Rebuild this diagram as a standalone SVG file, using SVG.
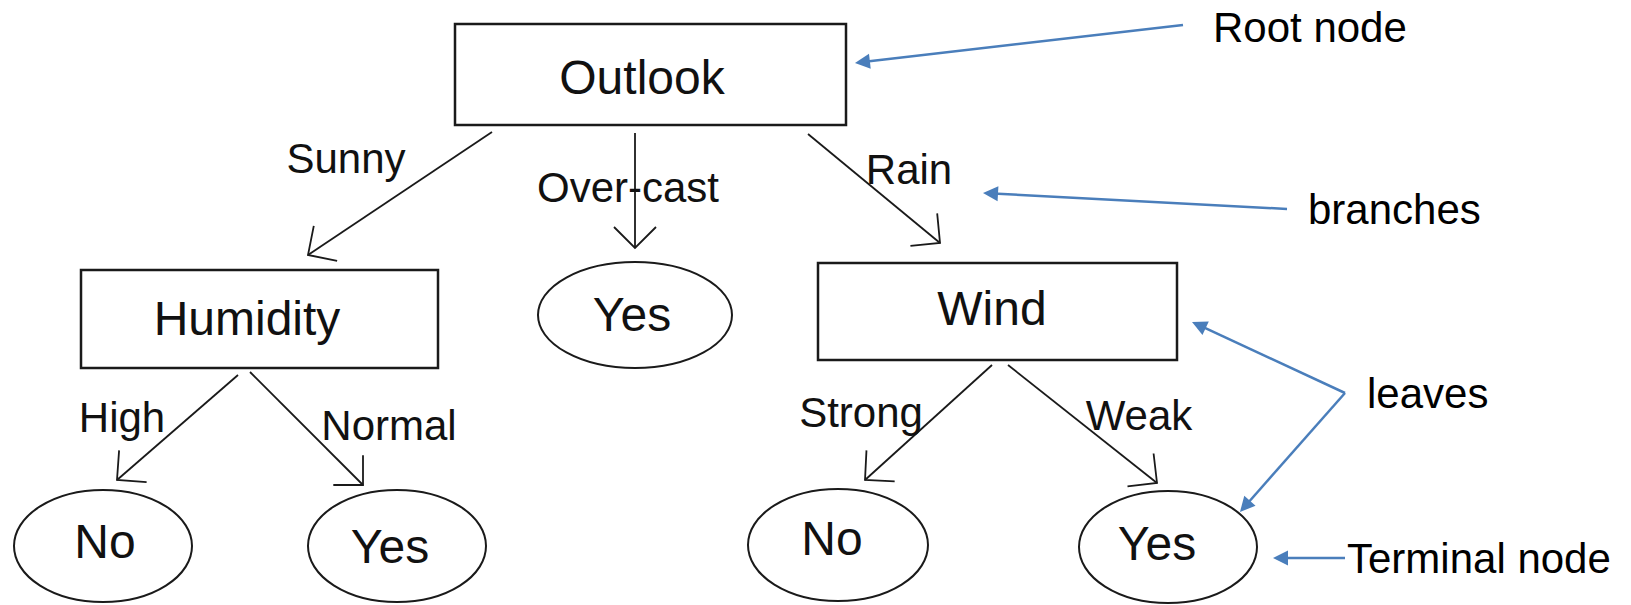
<svg xmlns="http://www.w3.org/2000/svg" width="1631" height="605" viewBox="0 0 1631 605">
<style>
  .box { fill: #fff; stroke: #1a1a1a; stroke-width: 2.5; }
  .leaf { fill: #fff; stroke: #1a1a1a; stroke-width: 2; }
  .node-t { font-family: "Liberation Sans", Arial, sans-serif; font-size: 48px; fill: #111; text-anchor: middle; }
  .edge-t { font-family: "Liberation Sans", Arial, sans-serif; font-size: 42px; fill: #111; text-anchor: middle; }
  .ann-t { font-family: "Liberation Sans", Arial, sans-serif; font-size: 42px; fill: #000; }
  .edge { stroke: #1a1a1a; stroke-width: 1.8; fill: none; marker-end: url(#open); }
  .ann { stroke: #4a7ebb; stroke-width: 2.5; fill: none; marker-end: url(#tri); }
</style>
<defs>
  <marker id="open" markerUnits="userSpaceOnUse" markerWidth="60" markerHeight="60" refX="0" refY="0" orient="auto" overflow="visible">
    <path d="M -21 -21 L 0 0 L -21 21" fill="none" stroke="#1a1a1a" stroke-width="1.8"/>
  </marker>
  <marker id="tri" markerUnits="userSpaceOnUse" markerWidth="40" markerHeight="40" refX="0" refY="0" orient="auto" overflow="visible">
    <path d="M 10 0 L -5 -7.5 L -5 7.5 z" fill="#4a7ebb"/>
  </marker>
</defs>
<rect width="1631" height="605" fill="#fff"/>

<g id="connectors">
  <line class="edge" x1="492" y1="132" x2="308" y2="255"/>
  <line class="edge" x1="635" y1="133" x2="635" y2="248"/>
  <line class="edge" x1="808" y1="134" x2="940" y2="243"/>
  <line class="edge" x1="238" y1="375" x2="117" y2="480"/>
  <line class="edge" x1="250" y1="372" x2="363" y2="485"/>
  <line class="edge" x1="992" y1="365" x2="865" y2="480"/>
  <line class="edge" x1="1008" y1="365" x2="1157" y2="483"/>
  <text class="edge-t" x="346" y="173">Sunny</text>
  <text class="edge-t" x="628" y="202">Over-cast</text>
  <text class="edge-t" x="909" y="184">Rain</text>
  <text class="edge-t" x="122" y="432">High</text>
  <text class="edge-t" x="389" y="440">Normal</text>
  <text class="edge-t" x="861" y="427">Strong</text>
  <text class="edge-t" x="1139" y="430">Weak</text>
</g>

<g id="node-outlook">
  <rect class="box" x="455" y="24" width="391" height="101"/>
  <text class="node-t" x="642" y="94">Outlook</text>
</g>
<g id="node-humidity">
  <rect class="box" x="81" y="270" width="357" height="98"/>
  <text class="node-t" x="247" y="335">Humidity</text>
</g>
<g id="node-overcast-yes">
  <ellipse class="leaf" cx="635" cy="315" rx="97" ry="53"/>
  <text class="node-t" x="632" y="331">Yes</text>
</g>
<g id="node-wind">
  <rect class="box" x="818" y="263" width="359" height="97"/>
  <text class="node-t" x="992" y="325">Wind</text>
</g>
<g id="node-high-no">
  <ellipse class="leaf" cx="103" cy="546" rx="89" ry="56"/>
  <text class="node-t" x="105" y="558">No</text>
</g>
<g id="node-normal-yes">
  <ellipse class="leaf" cx="397" cy="546" rx="89" ry="56"/>
  <text class="node-t" x="390" y="563">Yes</text>
</g>
<g id="node-strong-no">
  <ellipse class="leaf" cx="838" cy="545" rx="90" ry="56"/>
  <text class="node-t" x="832" y="555">No</text>
</g>
<g id="node-weak-yes">
  <ellipse class="leaf" cx="1168" cy="547" rx="89" ry="56"/>
  <text class="node-t" x="1157" y="560">Yes</text>
</g>

<g id="annotations">
  <line class="ann" x1="1183" y1="25" x2="864.9" y2="61.85"/>
  <line class="ann" x1="1287" y1="209" x2="993" y2="193.5"/>
  <line class="ann" x1="1345" y1="393" x2="1201.1" y2="326.2"/>
  <line class="ann" x1="1345" y1="393" x2="1246.6" y2="504.5"/>
  <line class="ann" x1="1345" y1="558" x2="1283" y2="558"/>
  <text class="ann-t" x="1213" y="42">Root node</text>
  <text class="ann-t" x="1308" y="224">branches</text>
  <text class="ann-t" x="1367" y="408">leaves</text>
  <text class="ann-t" x="1347" y="573">Terminal node</text>
</g>
</svg>
